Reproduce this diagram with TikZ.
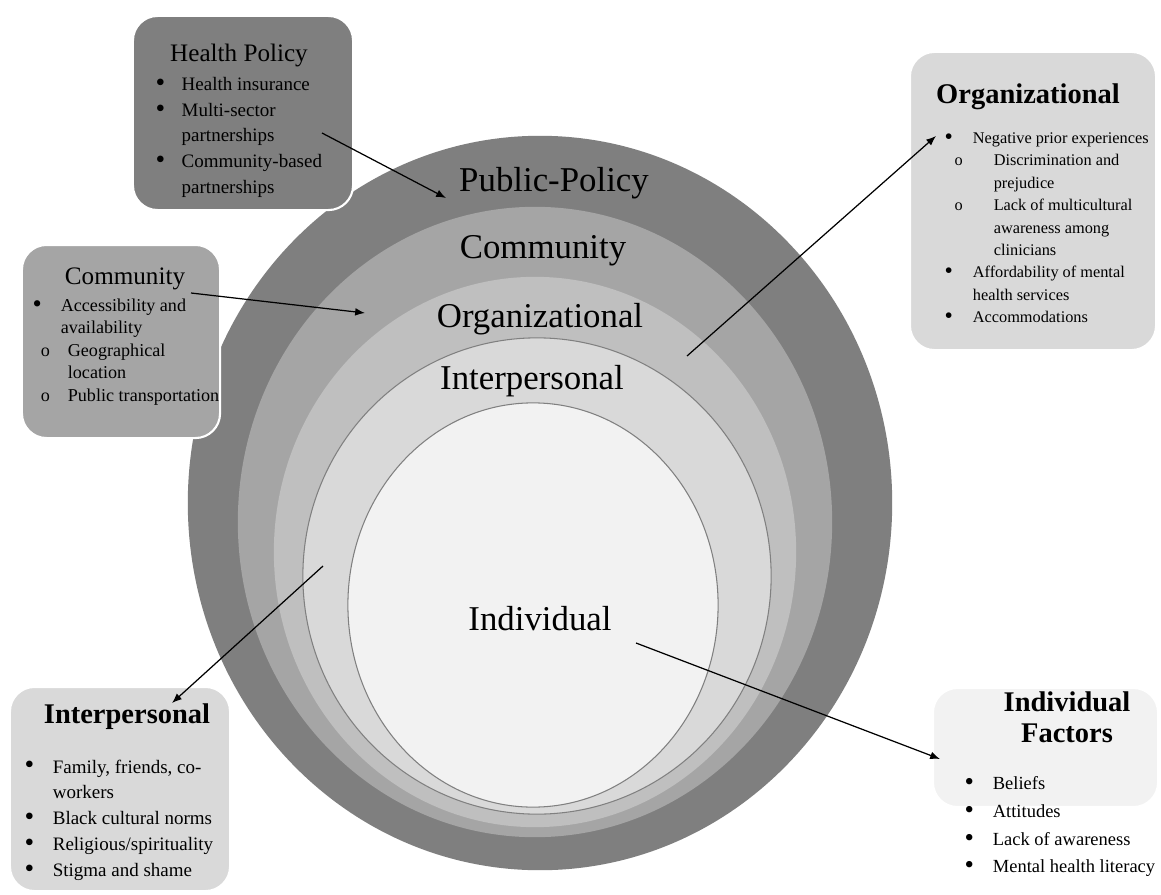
\documentclass[tikz,border=0pt]{standalone}
\usepackage{fontspec}
\setmainfont{Liberation Serif}
\usetikzlibrary{arrows.meta}

\definecolor{shade50}{HTML}{7F7F7F}
\definecolor{shade35}{HTML}{A5A5A5}
\definecolor{shade25}{HTML}{BFBFBF}
\definecolor{shade15}{HTML}{D9D9D9}
\definecolor{shade05}{HTML}{F2F2F2}

% bullet and sub-bullet of the lists
\newcommand{\blt}[1][8pt]{\makebox[#1][l]{\raisebox{-0.1ex}{\scalebox{1.45}{\textbullet}}}}
\newcommand{\subo}[2]{\hspace*{#1}\makebox[#2][l]{o}}

\begin{document}
\begin{tikzpicture}[x=0.01cm, y=-0.01cm,
  ring/.style={font=\fontsize{9.9}{11}\selectfont, inner sep=0pt},
  panel/.style={rectangle, draw=white, line width=0.6pt, rounded corners=7pt},
  head/.style={font=\fontsize{7.15}{8}\selectfont, inner sep=0pt},
  bhead/.style={font=\fontsize{8.1}{8.8}\selectfont\bfseries, inner sep=0pt, align=center},
  list/.style={anchor=north west, inner sep=0pt, align=left},
  link/.style={-{Latex[length=2.8pt,width=2.2pt]}, line width=0.35pt}]
\useasboundingbox (0,0) rectangle (1161,894);
\fill[white] (0,0) rectangle (1161,894);

% ---------------- nested levels ----------------
\fill[shade50] (540,503) ellipse [x radius=3.52cm, y radius=3.67cm];
\fill[shade35] (535,522) ellipse [x radius=2.97cm, y radius=3.15cm];
\fill[shade25] (535,552) ellipse [x radius=2.61cm, y radius=2.75cm];
\filldraw[fill=shade15, draw=gray, line width=0.3pt]
  (537,576) ellipse [x radius=2.34cm, y radius=2.38cm];
\filldraw[fill=shade05, draw=gray, line width=0.3pt]
  (533,605) ellipse [x radius=1.85cm, y radius=2.02cm];

\node[ring] (pp) at (554,183) {Public-Policy};
\node[ring] (cm) at (543,251) {Community};
\node[ring] (og) at (540,319) {Organizational};
\node[ring] (ip) at (532,381) {Interpersonal};
\node[ring] (iv) at (540,619) {Individual};

% ---------------- health policy ----------------
\node[panel, fill=shade50, minimum width=2.2cm, minimum height=1.94cm] (hpbox) at (243,113) {};
\node[head] (hptitle) at (239,55) {Health Policy};
\node[list, font=\fontsize{5.4}{7.26}\selectfont] (hplist) at (155,77)
  {\blt[7.4pt]Health insurance\\ \blt[7.4pt]Multi-sector\\
   \hspace*{7.4pt}partnerships\\ \blt[7.4pt]Community-based\\
   \hspace*{7.4pt}partnerships};

% ---------------- community ----------------
\node[panel, fill=shade35, minimum width=1.98cm, minimum height=1.93cm] (cmbox) at (121,341.5) {};
\node[head] (cmtitle) at (125,279) {Community};
\node[list, font=\fontsize{5.15}{6.4}\selectfont] (cmlist) at (32,298)
  {\blt Accessibility and\\ \hspace*{8pt}availability\\
   \subo{2.3pt}{7.7pt}Geographical\\ \hspace*{10pt}location\\
   \subo{2.3pt}{7.7pt}Public transportation};

% ---------------- organizational ----------------
\node[panel, fill=shade15, minimum width=2.46cm, minimum height=2.98cm] (ogbox) at (1033,201) {};
\node[bhead] (ogtitle) at (1028,97) {Organizational};
\node[list, font=\fontsize{4.64}{6.37}\selectfont] (oglist) at (944,132)
  {\blt Negative prior experiences\\
   \subo{2.85pt}{11.1pt}Discrimination and\\ \hspace*{13.95pt}prejudice\\
   \subo{2.85pt}{11.1pt}Lack of multicultural\\ \hspace*{13.95pt}awareness among\\
   \hspace*{13.95pt}clinicians\\
   \blt Affordability of mental\\ \hspace*{8pt}health services\\
   \blt Accommodations};

% ---------------- interpersonal ----------------
\node[panel, fill=shade15, minimum width=2.2cm, minimum height=2.04cm] (ipbox) at (120,789) {};
\node[bhead] (iptitle) at (127,717) {Interpersonal};
\node[list, font=\fontsize{5.4}{7.33}\selectfont] (iplist) at (24,759)
  {\blt Family, friends, co-\\ \hspace*{8pt}workers\\ \blt Black cultural norms\\
   \blt Religious/spirituality\\ \blt Stigma and shame};

% ---------------- individual ----------------
\node[panel, fill=shade05, minimum width=2.25cm, minimum height=1.19cm] (ivbox) at (1045.5,747.5) {};
\node[bhead] (ivtitle) at (1067,717.5) {Individual\\Factors};
\node[list, font=\fontsize{5.26}{7.88}\selectfont] (ivlist) at (964,776)
  {\blt Beliefs\\ \blt Attitudes\\ \blt Lack of awareness\\ \blt Mental health literacy};

% ---------------- pointers ----------------
\coordinate (hp-tail) at (322,133);  \coordinate (pp-head) at (446,198);
\coordinate (cm-tail) at (191,293);  \coordinate (cm-head) at (365,313);
\coordinate (og-tail) at (687,356);  \coordinate (og-head) at (936,136);
\coordinate (ip-tail) at (323,566);  \coordinate (ip-head) at (172,703);
\coordinate (iv-tail) at (636,643);  \coordinate (iv-head) at (940,759);
\draw[link] (hp-tail) -- (pp-head);
\draw[link] (cm-tail) -- (cm-head);
\draw[link] (og-tail) -- (og-head);
\draw[link] (ip-tail) -- (ip-head);
\draw[link] (iv-tail) -- (iv-head);
\end{tikzpicture}
\end{document}
